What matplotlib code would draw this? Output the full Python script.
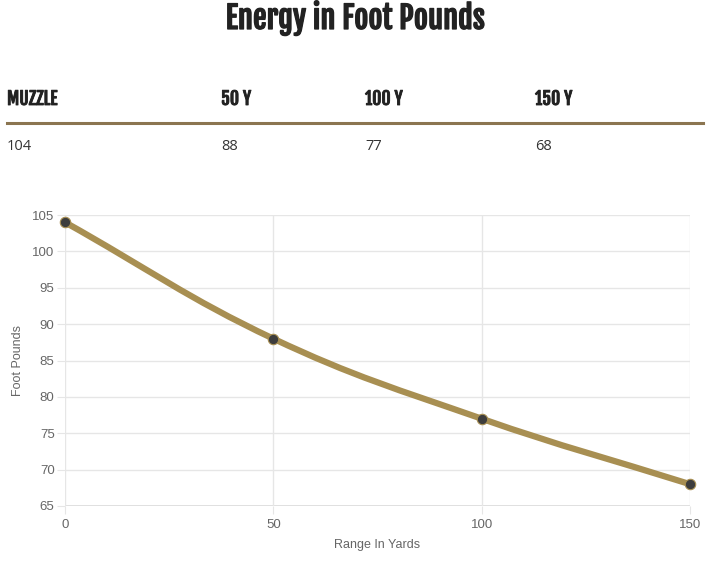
import matplotlib
matplotlib.use("Agg")
import matplotlib.pyplot as plt
import matplotlib.patheffects as pe
from matplotlib.path import Path
from matplotlib.patches import PathPatch
import numpy as np

# data
ranges = [0, 50, 100, 150]
energy = [104, 88, 77, 68]
headers = ["MUZZLE", "50 Y", "100 Y", "150 Y"]
header_x = [7, 221, 365, 535]   # pixel columns of the table

line_color = "#a88f52"
dot_color = "#3d3d3d"
grid_color = "#e6e6e6"
tick_color = "#666666"
dark = "#222222"
cond = ["Fjalla One", "Oswald", "DejaVu Sans"]
sans = ["Liberation Sans", "DejaVu Sans"]

W, H = 709, 561
fig = plt.figure(figsize=(W / 100, H / 100), dpi=100)

# a thin stroke makes the condensed face a little heavier
fig.text(355 / W, 1 - 18 / H, "Energy in Foot Pounds", ha="center", va="center",
         fontsize=22, family=cond, color=dark,
         path_effects=[pe.withStroke(linewidth=0.9, foreground=dark)])

for lbl, val, px in zip(headers, energy, header_x):
    fig.text(px / W, 1 - 99 / H, lbl, ha="left", va="center", fontsize=12.8,
             family=cond, color=dark,
             path_effects=[pe.withStroke(linewidth=0.6, foreground=dark)])
    fig.text(px / W, 1 - 146 / H, str(val), ha="left", va="center", fontsize=10.5,
             family="Open Sans", color="#333333")
fig.add_artist(plt.Line2D([7 / W, 703 / W], [1 - 123 / H, 1 - 123 / H],
                          color="#8b7550", lw=2.2, transform=fig.transFigure))

ax = fig.add_axes([65 / W, 1 - 506 / H, 625 / W, 291 / H])
ax.set_xlim(0, 150)
ax.set_ylim(65, 105)
ax.set_xticks(ranges)
ax.set_yticks(range(65, 106, 5))
ax.grid(True, color=grid_color, lw=1)
for s in ax.spines.values():
    s.set_visible(False)
ax.tick_params(colors=grid_color, labelcolor=tick_color, length=6, pad=1.5,
               labelsize=9.5)
ax.tick_params(axis="x", pad=3)
for lab in ax.get_xticklabels() + ax.get_yticklabels():
    lab.set_family(sans)
ax.set_xlabel("Range In Yards", color=tick_color, fontsize=9, labelpad=6,
              family=sans)
ax.set_ylabel("Foot Pounds", color=tick_color, fontsize=9, labelpad=6,
              family=sans)
ax.axhline(65, color="#d9d9d9", lw=1.2, zorder=1)
ax.axvline(0, color="#d9d9d9", lw=1.2, zorder=1)

# smooth line like chart.js (tension 0.4), control points in pixel space
pts = ax.transData.transform(np.column_stack([ranges, energy]))
t = 0.4
cps = []
for i in range(len(pts)):
    prev = pts[max(i - 1, 0)]
    cur = pts[i]
    nxt = pts[min(i + 1, len(pts) - 1)]
    d01 = np.hypot(*(cur - prev))
    d12 = np.hypot(*(nxt - cur))
    tot = d01 + d12
    s01 = d01 / tot if tot else 0
    s12 = d12 / tot if tot else 0
    cps.append((cur - t * s01 * (nxt - prev), cur + t * s12 * (nxt - prev)))
verts = [pts[0]]
codes = [Path.MOVETO]
for i in range(1, len(pts)):
    verts += [cps[i - 1][1], cps[i][0], pts[i]]
    codes += [Path.CURVE4] * 3
verts = ax.transData.inverted().transform(np.array(verts))
ax.add_patch(PathPatch(Path(verts, codes), fill=False, edgecolor=line_color,
                       lw=4.5, capstyle="round", joinstyle="round", zorder=3))
ax.plot(ranges, energy, "o", ms=7.5, mfc=dot_color, mec=line_color, mew=0.8,
        zorder=4, clip_on=False)

fig.savefig("out.png", dpi=100)
